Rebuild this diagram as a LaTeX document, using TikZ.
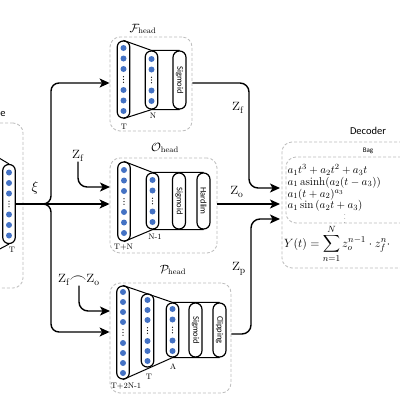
\documentclass[tikz,border=0pt]{standalone}
\usepackage{amsmath}
\usepackage{fontspec}
\setsansfont{Carlito}
\usetikzlibrary{arrows.meta}
\definecolor{dotblue}{HTML}{4472C4}
\definecolor{dashgray}{HTML}{BDBDBD}
\newcommand\ovalcol[5]{%
  \node[ovalbox, minimum height=#4pt] (#1) at (#2,#3) {};
  \foreach \d in {#5} \fill[dotblue] (#2,#3+\d) circle (3pt);
  \foreach \d in {-2.8,0,2.8} \fill (#2,#3+\d) circle (0.6pt);}
\begin{document}
\begin{tikzpicture}[x=1pt,y=-1pt,
  conn/.style={line width=1.4pt, rounded corners=9pt},
  arr/.style={conn, -{Stealth[length=10pt,width=9pt,inset=2.5pt]}},
  hbox/.style={draw=dashgray, line width=0.8pt, dash pattern=on 3pt off 2pt, rounded corners=10pt, inner sep=0pt},
  ovalbox/.style={draw, line width=1.2pt, rounded corners=6pt, minimum width=12.5pt, inner sep=0pt},
  actbox/.style={draw, line width=1.2pt, rounded corners=6.4pt, minimum width=13pt, inner sep=0pt},
  trap/.style={line width=1pt},
  small/.style={font=\fontsize{8}{9}\selectfont, inner sep=0pt},
  actlbl/.style={font=\sffamily\fontsize{8.5}{9}\selectfont, rotate=-90, inner sep=0pt},
  zlbl/.style={font=\fontsize{19}{20}\selectfont, inner sep=0pt},
  headlbl/.style={font=\fontsize{12}{13}\selectfont, inner sep=0pt}]
\useasboundingbox (0,0) rectangle (400,400);
\clip (0,0) rectangle (400,400);
\fill[white] (0,0) rectangle (400,400);

% dashed boxes
\node[hbox, minimum width=82pt, minimum height=94pt] (Fbox) at (151,84) {};
\node[hbox, minimum width=107pt, minimum height=95pt] (Obox) at (163.5,205.5) {};
\node[hbox, minimum width=121pt, minimum height=110pt] (Pbox) at (170.5,338) {};
\node[hbox, minimum width=50pt, minimum height=165pt] (Ebox) at (-2,205.5) {};
\node[hbox, minimum width=150pt, minimum height=126pt] (Dbox) at (357,205) {};
\node[hbox, minimum width=150pt, minimum height=66pt] (Bbox) at (361,190) {};

% head labels
\node[headlbl] (Flbl) at (143,29) {$\mathcal{F}_{\mathrm{head}}$};
\node[headlbl] (Olbl) at (165,148) {$\mathcal{O}_{\mathrm{head}}$};
\node[headlbl] (Plbl) at (173,270) {$\mathcal{P}_{\mathrm{head}}$};

% encoder (partly visible)
\node[font=\sffamily\fontsize{10.5}{12}\selectfont] (elbl) at (3,114) {e};
\ovalcol{e1}{9}{204}{79}{-31.5,-21,-10.5,10.5,21,31.5}
\coordinate (etl) at (-6,155);
\coordinate (ebl) at (-6,252);
\draw[trap] (e1.north) -- (etl);
\draw[trap] (e1.south) -- (ebl);
\node[small] (eT) at (12,250) {T};

% F head
\ovalcol{f1}{123.5}{79.5}{77}{-31.5,-21,-10.5,10.5,21,31.5}
\ovalcol{f2}{151.5}{80}{58}{-21,-10.5,10.5,21}
\node[actbox, minimum height=58pt] (fs) at (179.5,80) {};
\node[actlbl] (fsl) at (fs) {Sigmoid};
\draw[trap] (f1.north) -- (f2.north) -- (fs.north);
\draw[trap] (f1.south) -- (f2.south) -- (fs.south);
\node[small] (fT) at (124,126.5) {T};
\node[small] (fN) at (153,116) {N};

% O head
\ovalcol{o1}{124}{201.5}{79}{-31.5,-21,-10.5,10.5,21,31.5}
\ovalcol{o2}{152.5}{201}{56}{-21,-10.5,10.5,21}
\node[actbox, minimum height=56pt] (os) at (179,201) {};
\node[actlbl] (osl) at (os) {Sigmoid};
\node[actbox, minimum height=56pt] (oh) at (203.5,201) {};
\node[actlbl] (ohl) at (oh) {Hardlim};
\draw[trap] (o1.north) -- (o2.north) -- (oh.north);
\draw[trap] (o1.south) -- (o2.south) -- (oh.south);
\node[small] (oTN) at (123.5,247) {T+N};
\node[small] (oN1) at (155,237) {N-1};

% P head
\ovalcol{p1}{123}{332.5}{93}{-40.5,-30.5,-20.5,-10.5,10.5,20.5,30.5,40.5}
\ovalcol{p2}{147.5}{330.5}{73}{-30.5,-20.5,-10.5,10.5,20.5,30.5}
\ovalcol{p3}{172.5}{330}{54}{-21,-10.5,10.5,21}
\node[actbox, minimum height=54pt] (ps) at (195.5,330) {};
\node[actlbl] (psl) at (ps) {Sigmoid};
\node[actbox, minimum height=54pt] (pc) at (219.5,330) {};
\node[actlbl] (pcl) at (pc) {Clipping};
\draw[trap] (p1.north) -- (p3.north) -- (pc.north);
\draw[trap] (p1.south) -- (p3.south) -- (pc.south);
\node[small] (pT2) at (126,386) {T+2N-1};
\node[small] (pT) at (149,377) {T};
\node[small] (pA) at (173,366.5) {A};

% input connectors
\coordinate (split) at (42,204);
\coordinate (ftop) at (51,83);
\coordinate (pbot) at (51,332);
\draw[arr] (e1.east) -- (Obox.west |- e1.east);
\draw[arr, rounded corners=8pt] (split) -| (ftop) -- (Fbox.west |- ftop);
\draw[arr, rounded corners=8pt] (split) -| (pbot) -- (Pbox.west |- pbot);
\node[font=\fontsize{15}{16}\selectfont, inner sep=0pt] (xi) at (35,188) {$\xi$};

\node[zlbl] (zfin) at (78,156) {$\mathrm{z}_{\scriptscriptstyle\mathrm{f}}$};
\coordinate (oin) at (110,187);
\draw[arr] (zfin.south) |- (oin);

\node[zlbl] (zfzo) at (79,280) {$\mathrm{z}_{\scriptscriptstyle\mathrm{f}}{\frown}\mathrm{z}_{\scriptscriptstyle\mathrm{o}}$};
\coordinate (pin) at (110,311);
\draw[arr] (zfzo.south) |- (pin);

% output connectors
\coordinate (dtop) at (280,188);
\coordinate (dmid) at (280,204);
\coordinate (dbot) at (280,219);
\coordinate (fbend) at (249,188);
\coordinate (pbend) at (251,219);
\coordinate (pout) at (231,334);
\draw[arr] (Fbox.east |- ftop) -| (fbend) -- (dtop);
\draw[arr] (Obox.east |- e1.east) -- (dmid);
\draw[arr] (Pbox.east |- pout) -| (pbend) -- (dbot);
\node[zlbl] (zfo) at (238,108) {$\mathrm{z}_{\scriptscriptstyle\mathrm{f}}$};
\node[zlbl] (zoo) at (237,192) {$\mathrm{z}_{\scriptscriptstyle\mathrm{o}}$};
\node[zlbl] (zpo) at (239,269) {$\mathrm{z}_{\scriptscriptstyle\mathrm{p}}$};

% decoder
\node[font=\sffamily\fontsize{10.5}{12}\selectfont] (declbl) at (368,131) {Decoder};
\node[font=\sffamily\fontsize{7}{8}\selectfont] (baglbl) at (368,150.5) {Bag};
\node[anchor=west, align=left, inner sep=0pt, font=\fontsize{11.3}{11.7}\selectfont] (bag) at (287.5,188) {%
$a_1t^3+a_2t^2+a_3t$\\
$a_1\operatorname{asinh}(a_2(t-a_3))$\\
$a_1(t+a_2)^{a_3}$\\
$a_1\sin\left(a_2t+a_3\right)$};
\node[font=\fontsize{6}{6}\selectfont, inner sep=0pt] (bagdots) at (345,216.5) {$\vdots$};
\node[anchor=west, inner sep=0pt, font=\fontsize{12.8}{14}\selectfont] (yt) at (284,244) {$\displaystyle Y(t)=\sum_{n=1}^{N} z_o^{n-1}\cdot z_f^{n}\cdot$};
\end{tikzpicture}
\end{document}
